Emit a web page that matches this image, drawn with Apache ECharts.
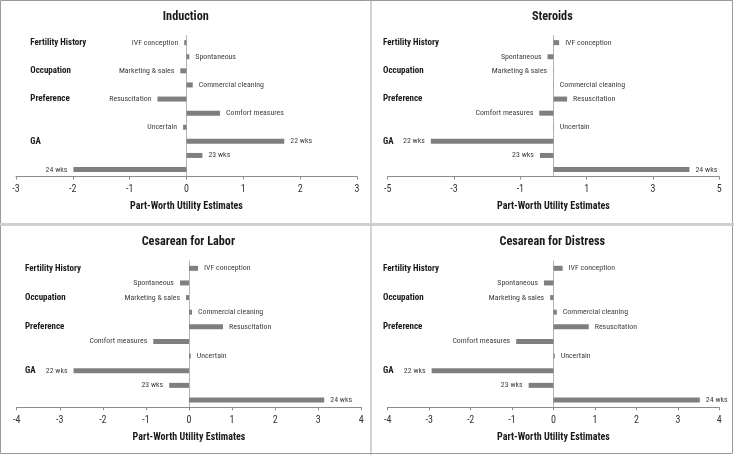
<!DOCTYPE html>
<html>
<head>
<meta charset="utf-8">
<script src="https://cdn.jsdelivr.net/npm/echarts@6/dist/echarts.min.js"></script>
<style>
html,body{margin:0;padding:0;background:#fff;}
#c{width:734px;height:455px;}
</style>
</head>
<body>
<div id="c"></div>
<script>
// ---- data ----
const categories = ['IVF conception','Spontaneous','Marketing & sales','Commercial cleaning','Resuscitation','Comfort measures','Uncertain','22 wks','23 wks','24 wks'];
const groupLabels = ['Fertility History','','Occupation','','Preference','','','GA','',''];
const titles = ['Induction','Steroids','Cesarean for Labor','Cesarean for Distress'];
const induction   = [-0.04, 0.05, -0.11, 0.11, -0.51, 0.59, -0.06, 1.72, 0.28, -1.99];
const steroids    = [0.17, -0.18, -0.01, 0.01, 0.41, -0.43, 0.01, -3.70, -0.41, 4.10];
const cesLabor    = [0.21, -0.21, -0.07, 0.07, 0.79, -0.83, 0.04, -2.68, -0.46, 3.14];
const cesDistress = [0.22, -0.23, -0.08, 0.08, 0.85, -0.90, 0.03, -2.94, -0.60, 3.53];
const xMin = [-3, -5, -4, -4];
const xMax = [3, 5, 4, 4];
const xInterval = [1, 2, 1, 1];
const axisName = 'Part-Worth Utility Estimates';

const seriesData = [induction, steroids, cesLabor, cesDistress];

// ---- font selection (narrow font if one is installed) ----
const ctx = document.createElement('canvas').getContext('2d');
function hasFont(name) {
  const s = 'abcdefghijklmnopqrstuvwxyzABCDEFGHIJ0123456789';
  for (const base of ['monospace', 'serif']) {
    ctx.font = '40px ' + base; const a = ctx.measureText(s).width;
    ctx.font = '40px "' + name + '", ' + base; const b = ctx.measureText(s).width;
    if (Math.abs(a - b) > 0.5) return true;
  }
  return false;
}
const candidates = ['Liberation Sans Narrow', 'Arial Narrow', 'Roboto Condensed', 'Noto Sans Condensed', 'Open Sans Condensed', 'Liberation Sans'];
let fam = 'Liberation Sans';
for (const c of candidates) { if (hasFont(c)) { fam = c; break; } }
const FONT = '"' + fam + '", Arial, sans-serif';
function fitSize(text, weight, targetW, maxS, minS) {
  ctx.font = weight + ' 100px ' + FONT;
  const w = ctx.measureText(text).width;
  const s = targetW / w * 100;
  return Math.max(minS, Math.min(maxS, s));
}
const fsGroup = fitSize('Fertility History', 'bold', 56, 10, 8.3);
const fsBar   = fitSize('IVF conception', 'normal', 46.5, 8.5, 7.2);
const fsTitle = fitSize('Induction', 'bold', 46, 12.5, 11);
const fsName  = fitSize(axisName, 'bold', 113, 10.5, 9.2);
const fsTick  = 10;

// layout (pixels)
const grids = [
  {left: 16,    top: 35.6, width: 341,   height: 141},
  {left: 387.7, top: 35.6, width: 331.6, height: 141},
  {left: 16.7,  top: 261,  width: 344.6, height: 146.3},
  {left: 387.7, top: 261,  width: 331.6, height: 146.3}
];
const titlePos = [{x: 185.8, y: 10.5}, {x: 552.3, y: 10.5}, {x: 188.3, y: 236}, {x: 552.3, y: 236}];
const groupMargin = [-14.3, 4.7, -8.3, 4.7];

const option = {
  animation: false,
  backgroundColor: '#fff',
  title: titles.map((t, i) => ({
    text: t, left: titlePos[i].x, top: titlePos[i].y, textAlign: 'center',
    padding: 0,
    textStyle: {fontFamily: FONT, fontSize: fsTitle, fontWeight: 'bold', color: '#1a1a1a'}
  })),
  grid: grids.map(g => Object.assign({}, g)),
  xAxis: grids.map((g, i) => ({
    type: 'value', gridIndex: i, min: xMin[i], max: xMax[i], interval: xInterval[i],
    axisLine: {show: true, onZero: false, lineStyle: {color: '#8c8c8c', width: 1}},
    axisTick: {show: true, inside: false, length: 3, lineStyle: {color: '#8c8c8c'}},
    splitLine: {show: false},
    axisLabel: {margin: 8, fontFamily: FONT, fontSize: fsTick, color: '#333'},
    name: axisName, nameLocation: 'middle', nameGap: 25,
    nameTextStyle: {fontFamily: FONT, fontSize: fsName, fontWeight: 'bold', color: '#1a1a1a'}
  })),
  yAxis: [],
  series: [],
  graphic: [
    {type: 'rect', shape: {x: 0.5, y: 0.5, width: 732, height: 453}, style: {fill: 'none', stroke: '#9a9a9a', lineWidth: 1}, silent: true},
    {type: 'line', shape: {x1: 371, y1: 0, x2: 371, y2: 455}, style: {stroke: '#a8a8a8', lineWidth: 1}, silent: true},
    {type: 'rect', shape: {x: 0, y: 223, width: 734, height: 3}, style: {fill: '#cfcfcf', stroke: null}, silent: true}
  ]
};

grids.forEach((g, i) => {
  option.yAxis.push({
    type: 'category', gridIndex: i, data: categories, inverse: true,
    axisLine: {show: true, onZero: true, lineStyle: {color: '#b4b4b4', width: 1}},
    axisTick: {show: false}, axisLabel: {show: false}, splitLine: {show: false}
  });
  option.yAxis.push({
    type: 'category', gridIndex: i, data: groupLabels, inverse: true, position: 'left',
    axisLine: {show: false, onZero: false}, axisTick: {show: false}, splitLine: {show: false},
    axisLabel: {show: true, interval: 0, align: 'left', margin: groupMargin[i],
      fontFamily: FONT, fontSize: fsGroup, fontWeight: 'bold', color: '#1a1a1a'}
  });
  option.series.push({
    type: 'bar', xAxisIndex: i, yAxisIndex: i * 2, barWidth: 5,
    itemStyle: {color: '#7f7f7f'},
    label: {show: true, formatter: '{b}', distance: 6, fontFamily: FONT, fontSize: fsBar, color: '#404040'},
    data: seriesData[i].map(v => ({value: v, label: {position: v < 0 ? 'left' : 'right'}}))
  });
});

const chart = echarts.init(document.getElementById('c'), null, {renderer: 'canvas'});
chart.setOption(option);
</script>
</body>
</html>
